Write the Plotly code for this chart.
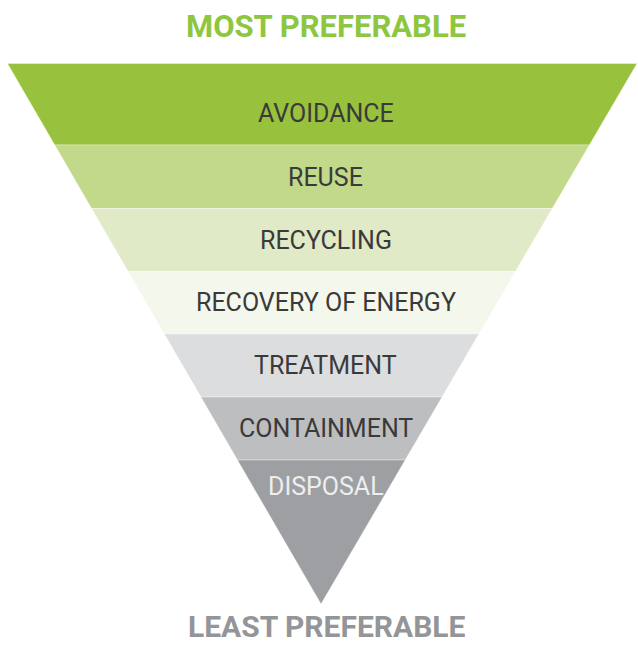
import plotly.graph_objects as go

# waste hierarchy, most preferable at the top
layers = ['AVOIDANCE', 'REUSE', 'RECYCLING', 'RECOVERY OF ENERGY',
          'TREATMENT', 'CONTAINMENT', 'DISPOSAL']
# depth of each band's lower edge, measured down from the top edge of the triangle
layer_depth = [81.5, 145, 208, 270.5, 333.5, 396.5, 540.5]

colors = ['#98c23d', '#c2d88a', '#e0eac6', '#f4f7ec',
          '#dcdddf', '#bcbec0', '#9d9fa2']
text_colors = ['#3a3a3a'] * 6 + ['#eeeeee']

# triangle geometry in page units
TOP_Y = 63.5
LEFT_X = 7.5
RIGHT_X = 637.0
APEX_X = 321.0
HEIGHT = layer_depth[-1]


def edges_at(d):
    f = d / HEIGHT
    return LEFT_X + (APEX_X - LEFT_X) * f, RIGHT_X + (APEX_X - RIGHT_X) * f


fig = go.Figure()

prev = 0.0
for i, (name, d) in enumerate(zip(layers, layer_depth)):
    l0, r0 = edges_at(prev)
    l1, r1 = edges_at(d)
    fig.add_trace(go.Scatter(
        x=[l0, r0, r1, l1, l0],
        y=[TOP_Y + prev, TOP_Y + prev, TOP_Y + d, TOP_Y + d, TOP_Y + prev],
        mode='lines', fill='toself', fillcolor=colors[i],
        line=dict(width=0.6, color='rgba(255,255,255,0.6)'),
        hoverinfo='text', text=name, showlegend=False
    ))
    if i < len(layers) - 1:
        ty = TOP_Y + d - 31.5
    else:
        ty = TOP_Y + prev + 26
    fig.add_annotation(
        x=(APEX_X + (LEFT_X + RIGHT_X) / 2) / 2 + 4, y=ty, text=name, showarrow=False,
        font=dict(family='Roboto', size=25, color=text_colors[i], weight=400)
    )
    prev = d

fig.add_annotation(x=326, y=26, text='MOST PREFERABLE', showarrow=False,
                   font=dict(family='Roboto', size=31, color='#8dc63f', weight=700))
fig.add_annotation(x=327, y=626, text='LEAST PREFERABLE', showarrow=False, borderpad=0,
                   font=dict(family='Roboto', size=30, color='#939598', weight=700))

fig.update_xaxes(range=[0, 638], visible=False, fixedrange=True)
fig.update_yaxes(range=[647, 0], visible=False, fixedrange=True)
fig.update_layout(
    width=638, height=647, autosize=False,
    margin=dict(l=0, r=0, t=0, b=0),
    plot_bgcolor='white', paper_bgcolor='white'
)

fig.write_html("out.html", config={'displayModeBar': False},
               post_script="document.body.style.margin='0';document.body.style.overflow='hidden';")
